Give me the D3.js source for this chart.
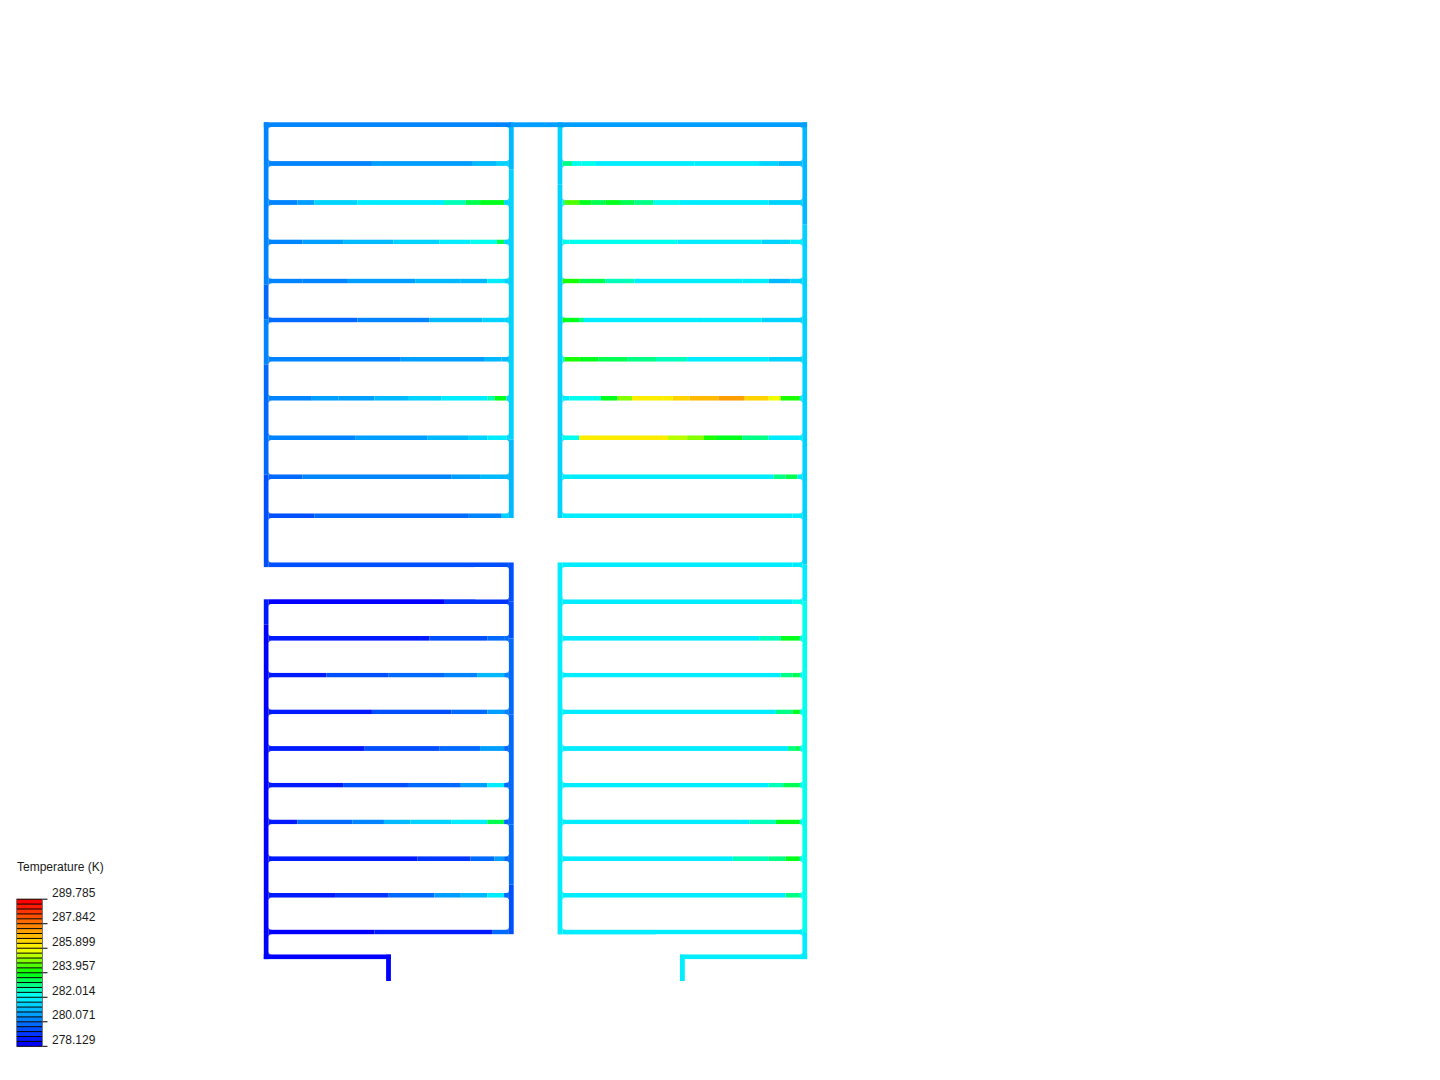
<!DOCTYPE html>
<html><head><meta charset="utf-8">
<script src="https://cdnjs.cloudflare.com/ajax/libs/d3/7.8.5/d3.min.js"></script>
<style>html,body{margin:0;background:#fff}svg{display:block}text{font-family:"Liberation Sans",Arial,sans-serif;font-size:12px;fill:#1a1a1a}</style>
</head><body><svg id="c" width="1440" height="1080"></svg>
<script>
// ---- data: model coordinates of the channel network ----
const legendTitle = "Temperature (K)";
const tempTicks = [278.129, 280.071, 282.014, 283.957, 285.899, 287.842, 289.785];
const bandCount = 30;
// y of horizontal channels (model units)
const upperY = [38.8, 77.8, 117.1, 156.3, 195.3, 234.6, 273.6, 313, 352, 391];
const midY = [440, 477];
const lowerY = [513.7, 550.4, 587.1, 623.8, 660.5, 697.2, 733.9, 770.6, 807.3];
const bottomY = 832, stubEndY = 856.3;
// x of vertical channels
const wallX = {a: 0, b: 245.1, c: 293.8, d: 538.5};
const stubLeftX = 122.3, stubRightX = 416.2;
// horizontal channels: [end % along the row, temperature K]
const leftUpper = [
 [[43,280.2],[85,280.7],[95,281.0],[100,281.5]],
 [[12,280.1],[19,280.7],[37,281.3],[73,281.9],[82,282.5],[88,283.3],[98,283.7],[100,281.5]],
 [[14,280.2],[31,280.6],[52,281.0],[71,281.4],[84,281.9],[95,282.3],[98,283.2],[100,281.5]],
 [[14,280.3],[33,280.2],[61,280.6],[80,280.9],[91,281.2],[98,281.9],[100,281.4]],
 [[37,279.9],[67,280.4],[89,280.9],[98,281.5],[100,281.3]],
 [[55,280.2],[90,280.8],[97,281.2],[100,281.2]],
 [[18,280.2],[29,280.6],[44,280.8],[58,281.1],[72,281.6],[91,282.0],[94,282.6],[99,283.8],[100,281.3]],
 [[36,280.2],[66,280.6],[83,281.0],[91,281.3],[99,281.9],[100,281.3]],
 [[14,279.7],[76,280.2],[88,280.7],[98,281.1],[100,281.0]],
 [[19,279.5],[83,280.0],[97,280.4],[100,281.3]]
];
const leftMid = [
 [[100,279.45]],
 [[73,278.5],[100,279.1]]
];
const leftLower = [
 [[67,278.7],[91,279.4],[98,279.9],[100,279.7]],
 [[24,278.9],[50,279.4],[73,279.7],[87,280.2],[98,281.0],[100,280.2]],
 [[43,278.9],[76,279.4],[91,279.9],[98,280.8],[100,280.1]],
 [[40,278.9],[71,279.4],[88,279.8],[98,280.6],[100,280.0]],
 [[31,278.8],[58,279.4],[80,280.0],[91,280.6],[98,281.7],[100,280.0]],
 [[12,278.9],[35,279.8],[48,280.4],[59,280.9],[76,281.5],[91,281.9],[98,283.5],[100,280.0]],
 [[62,278.6],[84,279.2],[94,279.7],[98,280.6],[100,279.7]],
 [[28,278.6],[50,279.2],[69,279.9],[80,280.5],[91,281.0],[98,281.9],[100,279.8]],
 [[44,278.3],[93,278.9],[100,279.7]]
];
const rightUpper = [
 [[4,282.9],[8,282.4],[14,282.2],[55,282.0],[82,281.8],[90,281.3],[100,281.2]],
 [[1,282.5],[7,284.6],[12,283.9],[18,283.3],[24,283.8],[30,283.3],[38,282.8],[49,282.4],[86,282.0],[100,281.5]],
 [[3,282.3],[48,282.1],[83,281.7],[95,281.3],[100,281.7]],
 [[7,284.1],[18,283.3],[30,282.5],[75,282.0],[86,281.7],[95,281.2],[100,281.5]],
 [[7,283.9],[9,283.0],[59,282.0],[83,281.8],[100,281.4]],
 [[1,282.5],[7,284.3],[15,283.9],[27,283.3],[39,282.9],[52,282.5],[86,282.0],[100,281.6]],
 [[3,281.9],[16,282.4],[23,283.9],[29,284.8],[42,285.9],[46,286.2],[53,286.5],[65,286.9],[76,287.3],[86,286.5],[91,285.7],[99,284.0],[100,281.8]],
 [[7,282.4],[44,286.0],[52,285.3],[59,284.8],[64,284.2],[75,283.9],[86,283.1],[99,282.0],[100,281.7]],
 [[88,282.0],[93,282.8],[98,283.5],[100,281.8]],
 [[96,282.0],[100,281.8]]
];
const rightMid = [
 [[96,282.0],[100,281.7]],
 [[96,282.0],[100,282.2]]
];
const rightLower = [
 [[82,282.0],[91,282.6],[99,283.8],[100,282.2]],
 [[91,282.0],[96,282.9],[99,283.5],[100,282.2]],
 [[89,282.0],[96,282.8],[99,283.7],[100,282.2]],
 [[94,282.0],[97,282.9],[99,283.5],[100,282.2]],
 [[86,282.0],[92,282.6],[99,283.5],[100,282.2]],
 [[78,282.0],[89,282.7],[99,283.7],[100,282.3]],
 [[71,282.0],[86,282.6],[93,283.1],[99,283.9],[100,282.3]],
 [[93,282.0],[99,282.9],[100,282.3]],
 [[100,282.0]]
];
// vertical channels: [end y, temperature K]
const wallAUpper = [[160,280.2],[195,279.9],[240,280.1],[350,279.9],[440,279.6]];
const wallALower = [[500,278.6],[832,278.3]];
const wallBUpper = [[45,281.0],[315,281.4],[391,281.0]];
const wallBLower = [[477,279.4],[513.7,279.5],[590,279.9],[700,280.0],[760,279.7],[807.3,279.3]];
const wallCUpper = [[60,281.3],[391,281.6]];
const wallCLower = [[807.3,281.9]];
const wallD = [[100,281.0],[440,281.5],[477,281.7],[807.3,282.2],[832,282.0]];
const header = [[245.1,280.2],[538.5,280.8]];
const bottomLeft = [[122.3,278.3]];
const bottomRight = [[538.5,282.0]];

// ---- scales ----
const chanW = 4.8;
const x = d3.scaleLinear().domain([0,538.5]).range([266.2,804.7]);
const y = d3.scaleLinear().domain([0,856.3]).range([124.7,981]);
const leftPct = d3.scaleLinear().domain([0,100]).range([x(wallX.a)+chanW/2, x(wallX.b)-chanW/2]);
const rightPct = d3.scaleLinear().domain([0,100]).range([x(wallX.c)+chanW/2, x(wallX.d)-chanW/2]);
const jet = d3.scaleLinear().domain([0,1/3,1/2,2/3,1]).range(["#0000ff","#00ffff","#00ff00","#ffff00","#ff0000"]);
const tMin = tempTicks[0], tMax = tempTicks[tempTicks.length-1];
const palette = d3.range(bandCount).map(i => jet(i/(bandCount-1)));
const color = d3.scaleQuantize().domain([tMin,tMax]).range(palette);
const legendY = d3.scaleLinear().domain([tMin,tMax]).range([1046.3,899.2]);

const svg = d3.select("#c");
const pieces = [];
function hPieces(list, ys, sc){
  list.forEach((row,i)=>{ let s=0;
    row.forEach(([e,t])=>{ pieces.push({x0:sc(s),x1:sc(e),y0:y(ys[i])-chanW/2,y1:y(ys[i])+chanW/2,t}); s=e; });
  });
}
function vPieces(list, xm, y0m, capTop=true, capEnd=true){
  let s=y0m;
  list.forEach(([e,t],i)=>{
    pieces.push({x0:x(xm)-chanW/2,x1:x(xm)+chanW/2,
      y0:y(s)-(i==0&&capTop?chanW/2:0), y1:y(e)+(i==list.length-1&&capEnd?chanW/2:0), t});
    s=e;
  });
}
function hRun(list, x0m, ym){
  let s=x0m;
  list.forEach(([e,t],i)=>{
    pieces.push({x0:x(s)-(i==0?chanW/2:0),x1:x(e)+(i==list.length-1?chanW/2:0),y0:y(ym)-chanW/2,y1:y(ym)+chanW/2,t});
    s=e;
  });
}
vPieces(wallAUpper,wallX.a,0); vPieces(wallALower,wallX.a,midY[1]);
vPieces(wallBUpper,wallX.b,0); vPieces(wallBLower,wallX.b,midY[0]);
vPieces(wallCUpper,wallX.c,0); vPieces(wallCLower,wallX.c,midY[0]);
vPieces(wallD,wallX.d,0);
hRun(header,0,0);
hRun(bottomLeft,0,bottomY); hRun(bottomRight,stubRightX,bottomY);
vPieces([[stubEndY,278.3]],stubLeftX,bottomY,true,false);
vPieces([[stubEndY,282.0]],stubRightX,bottomY,true,false);
hPieces(leftUpper,upperY,leftPct); hPieces(leftMid,midY,leftPct); hPieces(leftLower,lowerY,leftPct);
hPieces(rightUpper,upperY,rightPct); hPieces(rightMid,midY,rightPct); hPieces(rightLower,lowerY,rightPct);

svg.append("g").selectAll("rect").data(pieces).join("rect")
  .attr("x",d=>d.x0).attr("y",d=>d.y0).attr("width",d=>d.x1-d.x0).attr("height",d=>d.y1-d.y0)
  .attr("fill",d=>color(d.t)).attr("shape-rendering","geometricPrecision");

// white cells with rounded corners; the corners reveal the adjoining wall colour
function wallTemp(wall, start, m){ const p = wall.find(w=>m<=w[0]); return p? p[1] : wall[wall.length-1][1]; }
const cells = [];
function addCells(ys, lx, lw, rx, rw){
  for(let i=0;i<ys.length-1;i++){
    const mid=(ys[i]+ys[i+1])/2;
    cells.push({y0:y(ys[i])+chanW/2,y1:y(ys[i+1])-chanW/2,
      x0: lw? x(lx)+chanW/2 : x(lx)-8, x1: rw? x(rx)-chanW/2 : x(rx)+8,
      lt: lw? wallTemp(lw,0,mid):null, rt: rw? wallTemp(rw,0,mid):null});
  }
}
const uy=[0,...upperY], ly=[midY[1],...lowerY];
addCells(uy,wallX.a,wallAUpper,wallX.b,wallBUpper);
addCells([upperY[9],midY[0]],wallX.a,wallAUpper,wallX.b+8,null);
addCells(midY,wallX.b-30,null,wallX.b,wallBLower);
addCells(ly,wallX.a,wallALower,wallX.b,wallBLower);
addCells([lowerY[8],bottomY],wallX.a,wallALower,wallX.b+8,null);
addCells(uy,wallX.c,wallCUpper,wallX.d,wallD);
addCells([upperY[9],midY[0]],wallX.c-8,null,wallX.d,wallD);
addCells(midY,wallX.c,wallCLower,wallX.d,wallD);
addCells(ly,wallX.c,wallCLower,wallX.d,wallD);
addCells([lowerY[8],bottomY],stubRightX-20,null,wallX.d,wallD);

const cg = svg.append("g");
cg.selectAll("rect.l").data(cells.filter(c=>c.lt!==null)).join("rect").attr("class","l")
  .attr("x",d=>d.x0-.1).attr("y",d=>d.y0).attr("width",3).attr("height",d=>d.y1-d.y0).attr("fill",d=>color(d.lt));
cg.selectAll("rect.r").data(cells.filter(c=>c.rt!==null)).join("rect").attr("class","r")
  .attr("x",d=>d.x1-2.9).attr("y",d=>d.y0).attr("width",3).attr("height",d=>d.y1-d.y0).attr("fill",d=>color(d.rt));
cg.selectAll("rect.w").data(cells).join("rect").attr("class","w")
  .attr("x",d=>d.x0).attr("y",d=>d.y0).attr("width",d=>d.x1-d.x0).attr("height",d=>d.y1-d.y0)
  .attr("rx",2.5).attr("ry",2.5).attr("fill","#fff");

// ---- legend ----
const lg = svg.append("g");
const bandH = (legendY(tMin)-legendY(tMax))/bandCount;
lg.selectAll("rect.b").data(palette).join("rect").attr("class","b")
  .attr("x",17).attr("width",25)
  .attr("y",(d,i)=>legendY(tMin)-(i+1)*bandH).attr("height",bandH).attr("fill",d=>d);
lg.selectAll("line.s").data(d3.range(bandCount+1)).join("line").attr("class","s")
  .attr("x1",17).attr("x2",42)
  .attr("y1",i=>legendY(tMin)-i*bandH).attr("y2",i=>legendY(tMin)-i*bandH)
  .attr("stroke","#000").attr("stroke-width",1);
lg.selectAll("line.e").data([16.5,42.5]).join("line").attr("class","e")
  .attr("x1",d=>d).attr("x2",d=>d).attr("y1",legendY(tMax)-.5).attr("y2",legendY(tMin)+.5)
  .attr("stroke","#777").attr("stroke-width",1);
const axis = d3.axisRight(legendY).tickValues(tempTicks).tickSize(5).tickPadding(5).tickFormat(d3.format(".3f")).offset(0);
const ag = lg.append("g").attr("transform","translate(42.5,0)").call(axis);
ag.select(".domain").remove();
ag.selectAll(".tick line").attr("stroke","#000");
ag.selectAll(".tick text").attr("x",9.5).attr("dy","-0.2em").style("font-family",'"Liberation Sans",Arial,sans-serif').style("font-size","12px").attr("fill","#1a1a1a");
svg.append("text").attr("x",17).attr("y",871).text(legendTitle);
</script></body></html>
